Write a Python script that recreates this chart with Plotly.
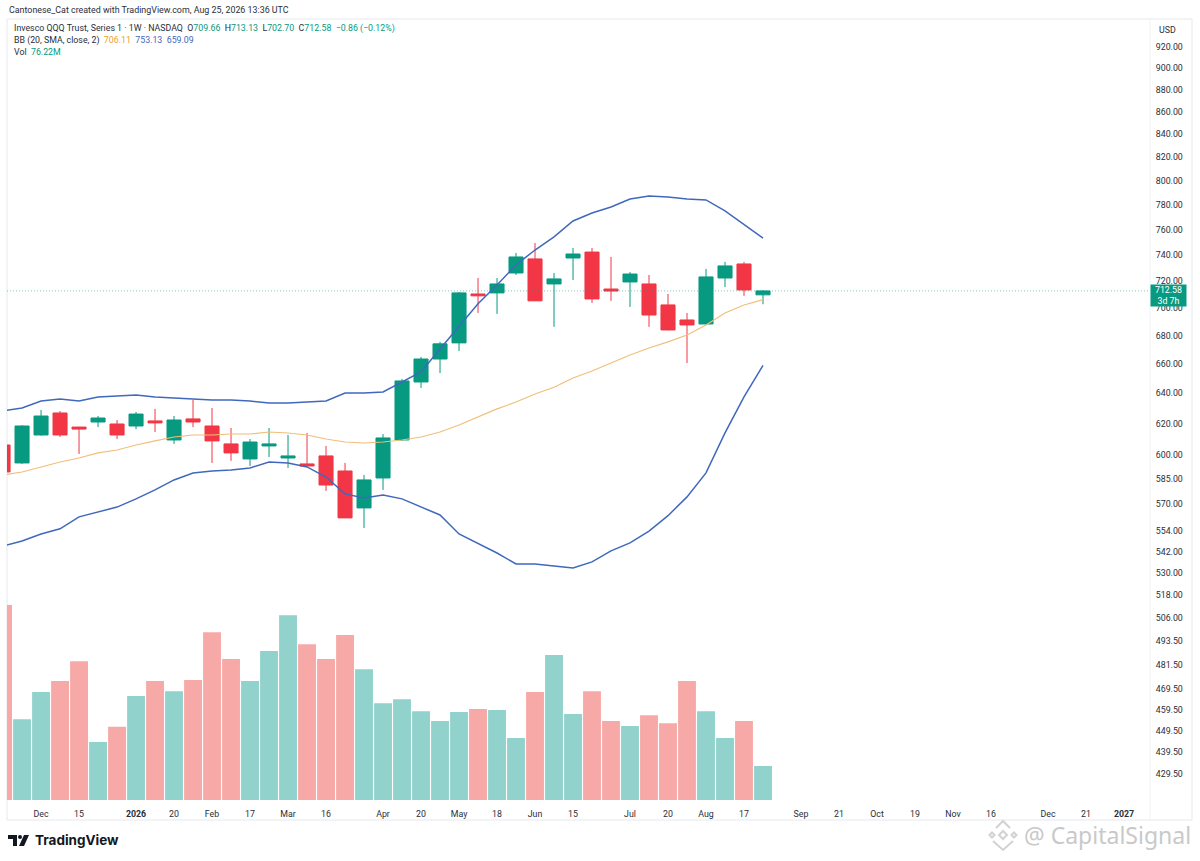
import math
import pandas as pd
import plotly.graph_objects as go

dates = pd.date_range("2025-11-17", "2026-08-24", freq="7D").strftime("%Y-%m-%d").tolist()

opens = [606.3, 595.0, 612.7, 627.0, 617.8, 621.1, 619.8, 618.5, 621.8, 609.5, 623.1, 618.5, 607.0, 597.5, 605.7, 598.1, 594.4, 599.4, 590.0, 567.6, 585.7, 609.5, 647.7, 663.5, 674.8, 710.3, 711.1, 726.1, 736.9, 717.8, 737.6, 742.2, 714.0, 719.3, 717.8, 702.2, 691.2, 688.3, 722.3, 733.0, 709.66]
highs = [606.5, 619.1, 629.0, 628.3, 617.9, 625.0, 622.4, 627.7, 629.7, 625.0, 635.6, 630.3, 617.2, 610.1, 617.2, 612.7, 614.0, 605.7, 595.0, 587.5, 613.3, 649.8, 664.9, 675.5, 711.8, 722.3, 722.3, 741.5, 749.3, 726.1, 745.4, 745.4, 738.4, 726.9, 724.6, 710.3, 696.3, 729.2, 734.6, 734.6, 713.13]
lows = [589.0, 594.4, 612.3, 611.4, 600.6, 617.8, 610.1, 616.5, 614.6, 607.0, 617.8, 595.0, 596.3, 593.1, 598.7, 591.9, 593.0, 577.8, 561.6, 555.8, 578.4, 608.9, 643.7, 653.8, 669.1, 696.3, 695.6, 724.6, 705.0, 686.2, 720.8, 703.7, 705.2, 700.7, 686.2, 683.8, 660.7, 688.0, 715.5, 708.9, 702.70]
closes = [589.4, 618.5, 625.0, 612.7, 616.5, 623.7, 612.7, 626.3, 620.5, 622.4, 621.1, 608.9, 601.3, 608.2, 607.0, 599.4, 593.1, 581.4, 561.7, 584.5, 610.8, 648.4, 663.5, 674.1, 711.1, 708.9, 717.8, 738.4, 705.2, 721.6, 740.7, 706.6, 712.5, 725.3, 694.8, 684.0, 687.6, 723.1, 731.5, 713.3, 712.58]

bb_upper = [628.3, 630.3, 634.9, 636.3, 634.9, 637.6, 638.3, 639.0, 637.6, 637.0, 636.3, 635.6, 635.6, 634.9, 633.6, 633.6, 634.2, 634.9, 640.3, 640.3, 641.0, 647.7, 654.5, 670.5, 686.2, 703.0, 717.0, 732.3, 743.8, 754.1, 766.8, 773.2, 778.1, 784.7, 787.1, 786.3, 784.7, 783.9, 774.9, 763.6, 753.13]
bb_mid = [587.5, 589.4, 592.5, 595.6, 598.1, 601.3, 603.1, 606.3, 608.9, 611.4, 612.7, 612.7, 613.3, 613.3, 614.6, 614.0, 612.7, 610.1, 608.2, 607.6, 608.2, 609.5, 611.4, 614.6, 619.1, 624.4, 629.7, 634.2, 639.6, 644.2, 650.4, 655.2, 660.7, 666.3, 671.2, 675.5, 680.4, 687.6, 696.3, 702.2, 706.11]
bb_lower = [545.4, 548.3, 552.3, 555.3, 562.3, 565.2, 568.1, 573.0, 578.4, 584.5, 588.8, 590.0, 590.6, 591.9, 595.6, 595.0, 592.5, 586.3, 576.0, 573.6, 575.4, 573.0, 568.1, 563.4, 552.3, 546.6, 541.4, 535.2, 535.2, 534.1, 533.0, 536.4, 542.6, 547.2, 554.0, 563.0, 574.2, 588.8, 614.0, 637.6, 659.09]

volumes = [437, 181, 242, 267, 311, 130, 164, 233, 267, 244, 269, 376, 316, 267, 334, 414, 349, 316, 370, 293, 217, 226, 199, 177, 197, 204, 202, 139, 242, 325, 193, 244, 177, 166, 190, 172, 267, 199, 139, 177, 76.22]

price_ticks = [920, 900, 880, 860, 840, 820, 800, 780, 760, 740, 720, 700, 680, 660, 640, 620, 600, 585, 570, 554, 542, 530, 518, 506, 493.5, 481.5, 469.5, 459.5, 449.5, 439.5, 429.5]
time_tick_dates = ["2025-12-01", "2025-12-15", "2026-01-05", "2026-01-19", "2026-02-02", "2026-02-16", "2026-03-02", "2026-03-16", "2026-04-06", "2026-04-20", "2026-05-04", "2026-05-18", "2026-06-01", "2026-06-15", "2026-07-06", "2026-07-20", "2026-08-03", "2026-08-17", "2026-09-07", "2026-09-21", "2026-10-05", "2026-10-19", "2026-11-02", "2026-11-16", "2026-12-07", "2026-12-21", "2027-01-04"]
time_tick_labels = ["Dec", "15", "<b>2026</b>", "20", "Feb", "17", "Mar", "16", "Apr", "20", "May", "18", "Jun", "15", "Jul", "20", "Aug", "17", "Sep", "21", "Oct", "19", "Nov", "16", "Dec", "21", "<b>2027</b>"]

UP = "#089981"
DOWN = "#F23645"
UP_VOL = "#92D2CC"
DOWN_VOL = "#F7A9A7"
BLUE = "#4068BC"
ORANGE = "#F0BE78"
TEXT = "#2A2E39"
FRAME = "#E6E8EE"
WATER = "#D2D2D2"
FONT = "Roboto"

W, H = 1200, 861
L, R, T, B = 7, 1150, 20, 800


def px(x):
    return (x - L) / (R - L)


def py(y):
    return (B - y) / (B - T)


def diamond(cx, cy, r):
    return (f"M {px(cx)} {py(cy - r)} L {px(cx + r)} {py(cy)} "
            f"L {px(cx)} {py(cy + r)} L {px(cx - r)} {py(cy)} Z")


fig = go.Figure()
vol_colors = [UP_VOL if c >= o else DOWN_VOL for o, c in zip(opens, closes)]
fig.add_trace(go.Bar(x=dates, y=volumes, marker=dict(color=vol_colors, line_width=0), yaxis="y2", showlegend=False))
fig.add_trace(go.Scatter(x=dates, y=bb_upper, mode="lines", line=dict(color=BLUE, width=1.5), showlegend=False))
fig.add_trace(go.Scatter(x=dates, y=bb_lower, mode="lines", line=dict(color=BLUE, width=1.5), showlegend=False))
fig.add_trace(go.Candlestick(
    x=dates, open=opens, high=highs, low=lows, close=closes,
    increasing=dict(line=dict(color=UP, width=1), fillcolor=UP),
    decreasing=dict(line=dict(color=DOWN, width=1), fillcolor=DOWN),
    whiskerwidth=0, showlegend=False,
))
fig.add_trace(go.Scatter(x=dates, y=bb_mid, mode="lines", line=dict(color=ORANGE, width=1.1), showlegend=False))

shapes = [
    dict(type="rect", xref="paper", yref="paper", x0=px(7), x1=px(1192), y0=py(820), y1=py(19), line=dict(color=FRAME, width=1), layer="below"),
    dict(type="line", xref="paper", yref="paper", x0=px(1150), x1=px(1150), y0=py(820), y1=py(19), line=dict(color="#F1F2F5", width=1), layer="below"),
    dict(type="line", xref="paper", yref="y", x0=0, x1=1, y0=closes[-1], y1=closes[-1], line=dict(color="rgba(8,153,129,0.5)", width=1, dash="1px,2px")),
    dict(type="path", xref="paper", yref="paper", fillcolor="#131722", line_width=0,
         path=f"M {px(8)} {py(835)} L {px(17)} {py(835)} L {px(17)} {py(846)} L {px(13)} {py(846)} L {px(13)} {py(839)} L {px(8)} {py(839)} Z"),
    dict(type="circle", xref="paper", yref="paper", fillcolor="#131722", line_width=0,
         x0=px(18), x1=px(22), y0=py(839), y1=py(835)),
    dict(type="path", xref="paper", yref="paper", fillcolor="#131722", line_width=0,
         path=f"M {px(24)} {py(835)} L {px(29)} {py(835)} L {px(24)} {py(846)} L {px(19)} {py(846)} Z"),
    dict(type="path", xref="paper", yref="paper", fillcolor="rgba(0,0,0,0)", line=dict(color=WATER, width=2),
         path=f"M {px(996)} {py(828)} L {px(1003)} {py(821)} L {px(1010)} {py(828)}"),
    dict(type="path", xref="paper", yref="paper", fillcolor="rgba(0,0,0,0)", line=dict(color=WATER, width=2),
         path=diamond(1003, 835, 4)),
    dict(type="path", xref="paper", yref="paper", fillcolor="rgba(0,0,0,0)", line=dict(color=WATER, width=2),
         path=diamond(992, 835, 2.5)),
    dict(type="path", xref="paper", yref="paper", fillcolor="rgba(0,0,0,0)", line=dict(color=WATER, width=2),
         path=diamond(1014, 835, 2.5)),
    dict(type="path", xref="paper", yref="paper", fillcolor="rgba(0,0,0,0)", line=dict(color=WATER, width=2),
         path=f"M {px(993)} {py(841)} L {px(1003)} {py(850)} L {px(1013)} {py(841)}"),
]


def note(x, y, text, size=8.8, color=TEXT, anchor="left", family=FONT):
    return dict(xref="paper", yref="paper", x=px(x), y=py(y), text=text, showarrow=False,
                xanchor=anchor, yanchor="middle", align="left",
                font=dict(family=family, size=size, color=color))


def span(text, color):
    return f'<span style="color:{color}">{text}</span>'


ohlc = (f"O{span('%.2f' % opens[-1], UP)}  H{span('%.2f' % highs[-1], UP)}  "
        f"L{span('%.2f' % lows[-1], UP)}  C{span('%.2f' % closes[-1], UP)}  " + span("−0.86 (−0.12%)", UP))
annotations = [
    note(7, 10, "Cantonese_Cat created with TradingView.com, Aug 25, 2026 13:36 UTC", size=8.9),
    note(12, 29, "Invesco QQQ Trust, Series 1 · 1W · NASDAQ  " + ohlc, size=8.8),
    note(12, 40.5, "BB (20, SMA, close, 2)  " + span("%.2f" % bb_mid[-1], "#F0A030") + "  " + span("%.2f" % bb_upper[-1], BLUE) + "  " + span("%.2f" % bb_lower[-1], BLUE), size=8.8),
    note(12, 52, "Vol  " + span("%.2fM" % volumes[-1], UP), size=8.8),
    note(1157, 30, "USD", size=8.8),
    note(33, 840, "<b>TradingView</b>", size=13.5, color="#131722", family="Inter"),
    note(1022, 835, "@ CapitalSignal", size=23, color="#C9C9C9", family="Noto Sans"),
    dict(xref="paper", yref="y", x=1, y=math.log10(closes[-1]), text="%.2f<br>3d 7h" % closes[-1], showarrow=False,
         xanchor="left", yanchor="middle", yshift=-5, width=35, align="center", bgcolor=UP, borderpad=0,
         font=dict(family=FONT, size=8.8, color="white")),
]

fig.update_layout(
    width=W, height=H, margin=dict(l=L, r=W - R, t=T, b=H - B, pad=0),
    paper_bgcolor="white", plot_bgcolor="white", showlegend=False, bargap=0.06, boxgap=0.26, boxgroupgap=0,
    font=dict(family=FONT, size=8.8, color=TEXT),
    hovermode=False, shapes=shapes, annotations=annotations,
    xaxis=dict(type="date", range=["2025-11-18 11:00", "2027-01-13 14:00"], tickmode="array",
               tickvals=time_tick_dates, ticktext=time_tick_labels, tickangle=0, showgrid=False, zeroline=False,
               showline=False, ticks="outside", ticklen=5, tickcolor="white", rangeslider=dict(visible=False),
               tickfont=dict(size=8.8, color=TEXT, family=FONT)),
    yaxis=dict(type="log", side="right", range=[math.log10(417.9), math.log10(946.6)], tickmode="array",
               tickvals=price_ticks, ticktext=["%.2f" % t for t in price_ticks], showgrid=False, zeroline=False,
               showline=False, ticks="outside", ticklen=3, tickcolor="white",
               tickfont=dict(size=8.8, color=TEXT, family=FONT), overlaying="y2"),
    yaxis2=dict(range=[0, 1748.6], visible=False, showgrid=False, zeroline=False),
)
fig.write_html("out.html", post_script="document.body.style.margin='0';", config={"displayModeBar": False})
